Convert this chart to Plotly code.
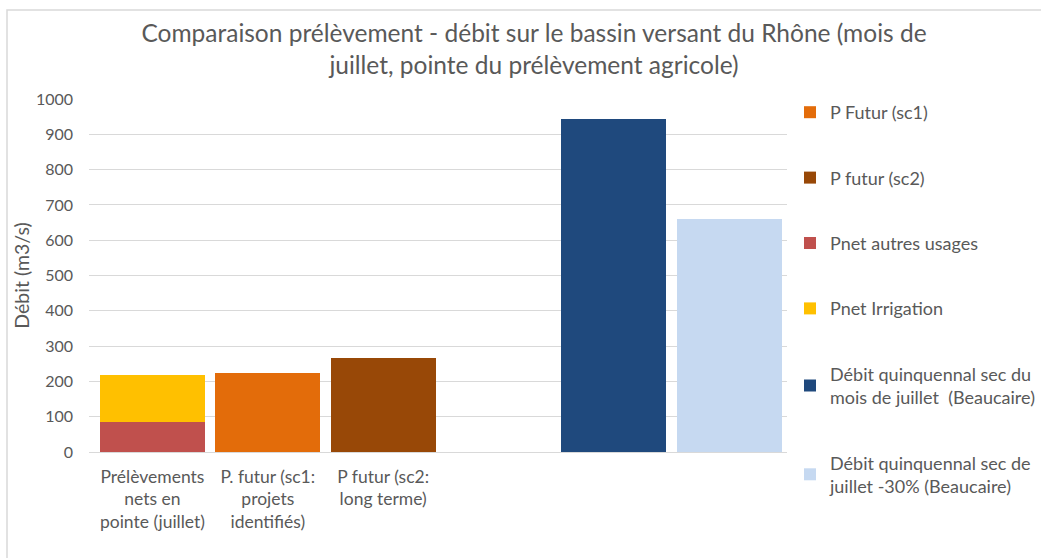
import plotly.graph_objects as go

categories = ["Prélèvements<br>nets en<br>pointe (juillet)",
              "P. futur (sc1:<br>projets<br>identifiés)",
              "P futur (sc2:<br>long terme)",
              " ", "  ", "   "]

series_names = ["P Futur (sc1)", "P futur (sc2)", "Pnet autres usages", "Pnet Irrigation",
                "Débit quinquennal sec du<br>mois de juillet  (Beaucaire)",
                "Débit quinquennal sec de<br>juillet -30% (Beaucaire)"]
p_futur_sc1 = [None, 225, None, None, None, None]
p_futur_sc2 = [None, None, 267, None, None, None]
pnet_autres = [84, None, None, None, None, None]
pnet_irrig = [134, None, None, None, None, None]
debit_q5 = [None, None, None, None, 943, None]
debit_q5_30 = [None, None, None, None, None, 659]
colors = ["#E36C0A", "#984807", "#C0504D", "#FFC000", "#1F497D", "#C6D9F1"]

values = [p_futur_sc1, p_futur_sc2, pnet_autres, pnet_irrig, debit_q5, debit_q5_30]

FONT = "Lato"
GREY = "#595959"

fig = go.Figure()
for i in range(len(series_names)):
    fig.add_trace(go.Bar(x=categories, y=values[i], name=series_names[i],
                         marker=dict(color=colors[i], line=dict(width=0)),
                         legendgroup=str(i)))

W, H = 1041, 558
ml, mr, mt, mb = 89, 254, 99, 106
pw, ph = W - ml - mr, H - mt - mb

fig.update_layout(
    width=W, height=H, barmode="stack", bargap=0.09,
    margin=dict(l=ml, r=mr, t=mt, b=mb, autoexpand=False),
    paper_bgcolor="white", plot_bgcolor="white",
    font=dict(family=FONT, color=GREY),
    title=dict(text="Comparaison prélèvement - débit sur le bassin versant du Rhône (mois de<br>juillet, pointe du prélèvement agricole)",
               x=534 / W, xanchor="center", y=1 - 42 / H, yanchor="top",
               font=dict(size=24.5, color=GREY, family=FONT)),
    yaxis=dict(range=[0, 1000], dtick=100, gridcolor="#D9D9D9", gridwidth=1,
               showline=False, zeroline=True, zerolinecolor="#D9D9D9", zerolinewidth=1,
               tickfont=dict(size=16, color=GREY), ticks="", ticklen=0,
               ticklabelstandoff=15, automargin=False,
               title=dict(text="Débit (m3/s)", font=dict(size=19.5, color=GREY), standoff=1)),
    xaxis=dict(showline=False, tickfont=dict(size=17.5, color=GREY), ticks="",
               ticklabelstandoff=12, automargin=False, range=[-0.55, 5.5],
               categoryorder="array", categoryarray=categories),
    legend=dict(xref="container", yref="container", x=790 / W, xanchor="left",
                y=1 - 94 / H, yanchor="top", maxheight=540,
                font=dict(size=18, color=GREY, family=FONT), tracegroupgap=39,
                itemwidth=30, traceorder="grouped", bgcolor="rgba(0,0,0,0)"),
    shapes=[dict(type="rect", xref="paper", yref="paper",
                 x0=(7 - ml) / pw, x1=(W + 5 - ml) / pw,
                 y0=-(H + 5 - mt - ph) / ph, y1=1 + (mt - 10) / ph,
                 line=dict(color="#D9D9D9", width=1.5), layer="below")],
)

fig.write_html("out.html", config={"displayModeBar": False},
               post_script="document.body.style.margin='0px';")
